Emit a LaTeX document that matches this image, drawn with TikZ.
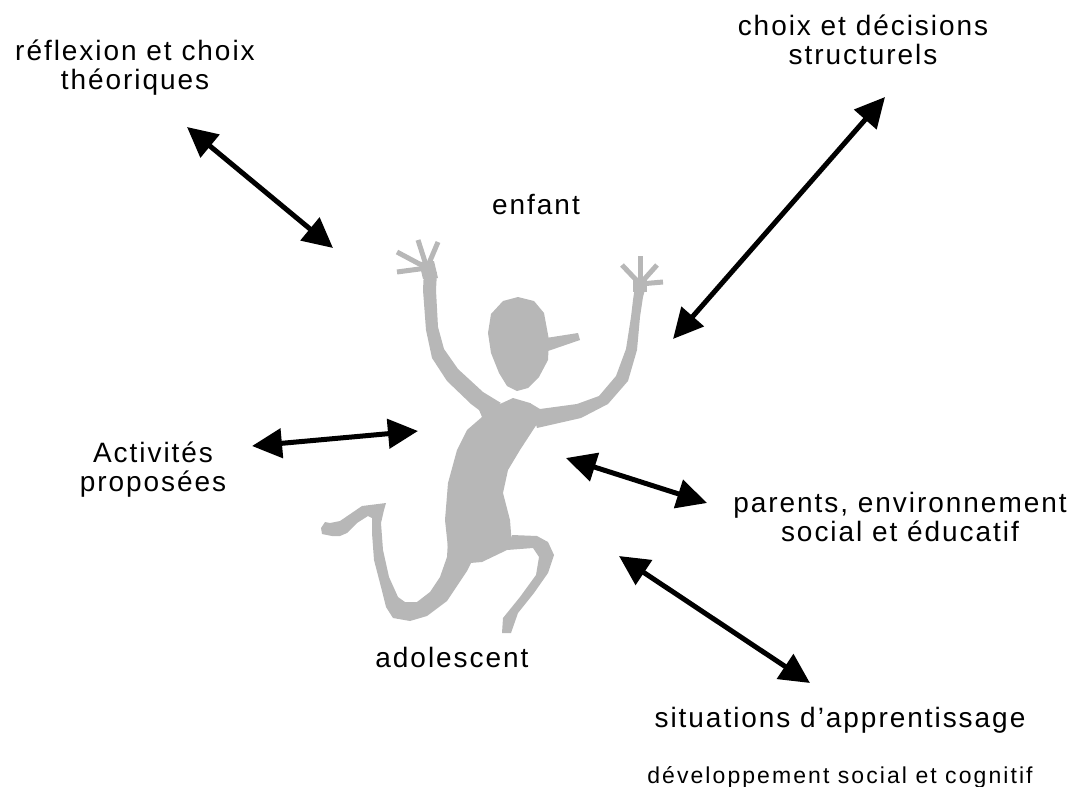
\documentclass[tikz,border=0pt]{standalone}
\usepackage{fontspec}
\setmainfont{Liberation Sans}[LetterSpace=7]
\newfontfamily\smallfont{Liberation Sans}[LetterSpace=9]
\usetikzlibrary{arrows.meta}
\definecolor{figgray}{RGB}{183,183,183}
\begin{document}
\begin{tikzpicture}[x=1pt, y=-1pt,
    lbl/.style={align=center, inner sep=0pt, font=\fontsize{28}{29}\selectfont},
    dblarrow/.style={{Triangle[length=30pt,width=29pt]}-{Triangle[length=30pt,width=29pt]}, line width=5pt},
    finger/.style={figgray, line width=5pt}]
    \useasboundingbox (0,0) rectangle (1080,787);

    \node[lbl] (reflexion) at (135,68) {réflexion et choix\\théoriques};
    \node[lbl] (choix) at (863,40) {choix et décisions\\structurels};
    \node[lbl] (enfant) at (536,205) {enfant};
    \node[lbl] (activites) at (153,470) {Activités\\proposées};
    \node[lbl] (parents) at (900,517) {parents, environnement\\social et éducatif};
    \node[lbl] (adolescent) at (452,657) {adolescent};
    \node[lbl] (situations) at (840,720) {situations d’apprentissage};
    \node[lbl, font=\smallfont\fontsize{23}{26}\selectfont] (developpement) at (840,777) {développement social et cognitif};

    % figure
    \fill[figgray] (503,301) -- (518,297) -- (534,301) -- (544,313) -- (549,340) -- (548,360) -- (539,377) -- (528,388) -- (517,391) -- (507,386) -- (499,373) -- (491,353) -- (488,333) -- (491,314) -- cycle;
    \fill[figgray] (546,338) -- (578,333) -- (580,340) -- (548,351) -- cycle;
    \fill[figgray] (424,270) -- (423,290) -- (426,330) -- (432,358) -- (447,381) -- (471,404) -- (483,413) -- (501,403) -- (483,392) -- (458,369) -- (444,349) -- (438,327) -- (436,290) -- (437,272) -- cycle;
    \fill[figgray] (419,262) -- (434,261) -- (438,278) -- (423,279) -- cycle;
    \foreach \tip in {(397,252),(397,272),(418,240),(438,242)}
        \draw[finger] (427,268) -- \tip;
    \fill[figgray] (635,286) -- (633,300) -- (631,317) -- (626,349) -- (616,376) -- (599,396) -- (577,404) -- (540,409) -- (530,403) -- (537,428) -- (581,418) -- (608,404) -- (628,381) -- (637,350) -- (640,317) -- (643,297) -- (646,286) -- cycle;
    \fill[figgray] (633,278) -- (647,278) -- (647,292) -- (633,292) -- cycle;
    \foreach \tip in {(622,265),(640,256),(657,265),(663,282)}
        \draw[finger] (640,284) -- \tip;
    \fill[figgray] (482,400) -- (500,404) -- (513,398) -- (530,403) -- (537,410) -- (540,420) -- (535,427) -- (520,450) -- (508,470) -- (503,493) -- (510,520) -- (512,546) -- (507,550) -- (482,562) -- (470,563) -- (463,560) -- (448,548) -- (445,520) -- (448,483) -- (457,450) -- (467,430) -- (482,417) -- (477,405) -- cycle;
    \fill[figgray] (448,540) -- (447,557) -- (440,577) -- (430,592) -- (417,602) -- (405,602) -- (398,597) -- (389,577) -- (383,550) -- (381,523) -- (384,510) -- (386,503) -- (362,506) -- (340,521) -- (330,523) -- (325,522) -- (321,528) -- (322,534) -- (332,536) -- (340,536) -- (347,533) -- (357,523) -- (368,516) -- (372,518) -- (372,533) -- (374,560) -- (381,587) -- (386,607) -- (393,618) -- (410,621) -- (427,616) -- (447,601) -- (467,571) -- (471,563) -- cycle;
    \fill[figgray] (507,550) -- (512,535) -- (537,536) -- (548,542) -- (554,555) -- (548,573) -- (534,593) -- (518,613) -- (511,633) -- (502,633) -- (503,618) -- (520,597) -- (536,575) -- (539,557) -- (533,548) -- cycle;

    % arrows
    \coordinate (reflexion-a) at (187,127);
    \coordinate (reflexion-b) at (333,248);
    \coordinate (choix-a) at (885,97);
    \coordinate (choix-b) at (673,339);
    \coordinate (activites-a) at (252,446);
    \coordinate (activites-b) at (418,431);
    \coordinate (parents-a) at (566,458);
    \coordinate (parents-b) at (707,503);
    \coordinate (situations-a) at (619,556);
    \coordinate (situations-b) at (810,683);

    \draw[dblarrow] (reflexion-a) -- (reflexion-b);
    \draw[dblarrow] (choix-a) -- (choix-b);
    \draw[dblarrow] (activites-a) -- (activites-b);
    \draw[dblarrow] (parents-a) -- (parents-b);
    \draw[dblarrow] (situations-a) -- (situations-b);
\end{tikzpicture}
\end{document}
